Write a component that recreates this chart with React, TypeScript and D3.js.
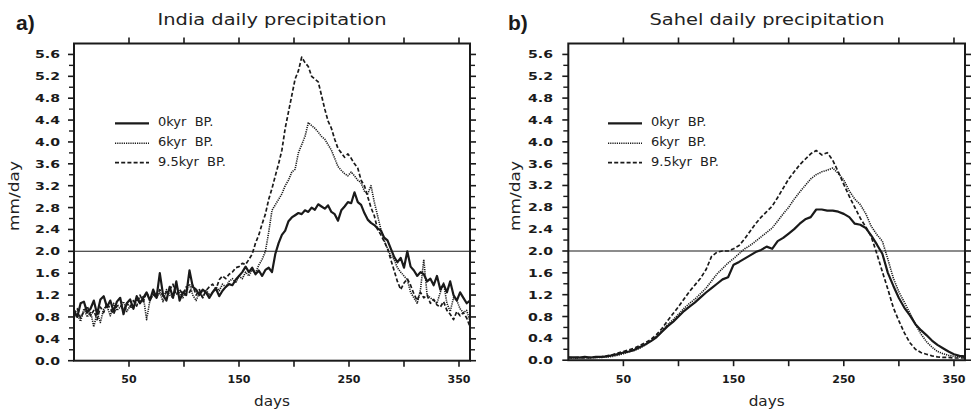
import React from 'react';
import * as d3 from 'd3';

const W = 974;
const H = 414;

// ---- data ----
const indiaDays = d3.range(0, 361, 3);
const sahelDays = d3.range(0, 361, 5);

const india0k = [
  0.92, 0.80, 1.05, 1.08, 0.88, 0.95, 1.10, 0.85, 1.12, 1.18,
  0.98, 1.10, 0.90, 1.08, 1.15, 0.85, 1.05, 1.12, 0.95, 1.18,
  1.05, 1.15, 1.25, 1.10, 1.30, 1.15, 1.60, 1.20, 1.10, 1.35,
  1.15, 1.45, 1.10, 1.25, 1.20, 1.65, 1.35, 1.30, 1.20, 1.30,
  1.25, 1.15, 1.25, 1.32, 1.18, 1.28, 1.35, 1.40, 1.38, 1.48,
  1.55, 1.62, 1.72, 1.62, 1.70, 1.58, 1.65, 1.55, 1.66, 1.70,
  1.62, 1.95, 2.15, 2.30, 2.38, 2.55, 2.62, 2.66, 2.70, 2.68,
  2.75, 2.72, 2.80, 2.76, 2.86, 2.82, 2.78, 2.84, 2.72, 2.68,
  2.56, 2.75, 2.82, 2.90, 2.88, 3.08, 2.90, 2.85, 2.70, 2.58,
  2.52, 2.48, 2.42, 2.38, 2.25, 2.20, 2.05, 1.90, 1.80, 1.88,
  1.70, 2.00, 1.72, 1.65, 1.55, 1.62, 1.58, 1.45, 1.50, 1.38,
  1.55, 1.30, 1.40, 1.25, 1.45, 1.20, 1.10, 1.25, 1.15, 1.05,
  1.10,
];
const india6k = [
  0.78, 0.85, 0.72, 0.95, 0.80, 0.90, 0.62, 0.88, 0.70, 0.95,
  1.00, 0.82, 1.05, 0.92, 0.98, 1.08, 0.90, 1.00, 0.95, 1.12,
  1.05, 1.18, 0.75, 1.10, 1.20, 1.15, 1.25, 1.08, 1.30, 1.20,
  1.15, 1.35, 1.25, 1.15, 1.30, 1.40, 1.20, 1.10, 1.25, 1.15,
  1.30, 1.20, 1.25, 1.35, 1.28, 1.40, 1.35, 1.45, 1.50, 1.42,
  1.55, 1.50, 1.62, 1.55, 1.66, 1.60, 1.75, 1.85, 2.00, 2.35,
  2.75, 2.85, 2.95, 3.05, 3.20, 3.30, 3.45, 3.50, 3.80, 3.95,
  4.10, 4.35, 4.30, 4.25, 4.18, 4.10, 4.05, 3.95, 3.85, 3.70,
  3.55, 3.48, 3.42, 3.38, 3.45, 3.38, 3.30, 3.25, 3.10, 3.05,
  3.20, 2.90, 2.65, 2.40, 2.20, 2.05, 1.92, 1.85, 1.70, 1.62,
  1.55, 1.48, 1.25, 1.15, 1.05, 1.30, 1.85, 1.20, 1.15, 1.10,
  1.05, 1.25, 1.42, 1.05, 0.90, 1.15, 1.10, 0.95, 0.88, 0.92,
  0.72,
];
const india95k = [
  0.85, 0.95, 0.78, 0.90, 1.00, 0.82, 0.92, 0.75, 0.98, 0.88,
  1.05, 0.95, 0.85, 1.00, 1.02, 0.92, 1.05, 0.98, 1.10, 1.00,
  1.20, 1.08, 1.25, 1.12, 1.22, 1.15, 1.30, 1.18, 1.25, 1.30,
  1.40, 1.20, 1.30, 1.22, 1.35, 1.25, 1.38, 1.20, 1.30, 1.15,
  1.28, 1.35, 1.40, 1.30, 1.48, 1.55, 1.50, 1.58, 1.62, 1.70,
  1.72, 1.78, 1.76, 1.85, 1.95, 2.15, 2.30, 2.50, 2.68, 2.95,
  3.15, 3.38, 3.60, 3.85, 4.25, 4.55, 4.85, 5.15, 5.30, 5.55,
  5.45, 5.38, 5.20, 5.15, 5.10, 4.85, 4.60, 4.38, 4.25, 4.05,
  3.88, 3.80, 3.72, 3.78, 3.70, 3.60, 3.52, 3.30, 3.20, 3.00,
  2.80, 2.65, 2.40, 2.30, 2.18, 2.05, 1.85, 1.65, 1.45, 1.30,
  1.42, 1.50, 1.38, 1.22, 1.10, 1.25, 1.15, 1.20, 1.05, 1.12,
  1.02, 0.98, 1.08, 0.92, 0.85, 0.75, 0.90, 0.82, 0.88, 0.78,
  0.62,
];

const sahel0k = [
  0.05, 0.05, 0.05, 0.06, 0.05, 0.06, 0.06, 0.07, 0.09, 0.11,
  0.14, 0.16, 0.19, 0.24, 0.29, 0.35, 0.42, 0.52, 0.62, 0.70,
  0.80, 0.90, 0.98, 1.06, 1.15, 1.24, 1.32, 1.40, 1.48, 1.52,
  1.75, 1.80, 1.86, 1.92, 1.98, 2.02, 2.08, 2.04, 2.18, 2.24,
  2.32, 2.40, 2.50, 2.58, 2.62, 2.76, 2.76, 2.74, 2.74, 2.72,
  2.68, 2.62, 2.50, 2.48, 2.42, 2.28, 2.12, 1.95, 1.60, 1.36,
  1.14, 0.96, 0.82, 0.66, 0.55, 0.46, 0.36, 0.28, 0.22, 0.16,
  0.11, 0.08, 0.07,
];
const sahel6k = [
  0.04, 0.04, 0.04, 0.05, 0.04, 0.05, 0.05, 0.06, 0.07, 0.09,
  0.12, 0.15, 0.18, 0.22, 0.28, 0.35, 0.44, 0.54, 0.65, 0.74,
  0.84, 0.95, 1.04, 1.12, 1.22, 1.32, 1.45, 1.58, 1.68, 1.78,
  1.86, 1.95, 2.04, 2.10, 2.18, 2.26, 2.34, 2.42, 2.55, 2.68,
  2.80, 2.95, 3.08, 3.20, 3.32, 3.40, 3.45, 3.48, 3.52, 3.42,
  3.30, 3.10, 2.95, 2.85, 2.68, 2.45, 2.30, 2.18, 1.85, 1.50,
  1.25, 1.06, 0.86, 0.66, 0.48, 0.34, 0.24, 0.16, 0.12, 0.09,
  0.07, 0.06, 0.05,
];
const sahel95k = [
  0.05, 0.04, 0.05, 0.04, 0.05, 0.05, 0.06, 0.08, 0.10, 0.13,
  0.16, 0.19, 0.22, 0.27, 0.32, 0.38, 0.47, 0.58, 0.72, 0.85,
  0.98, 1.12, 1.26, 1.38, 1.50, 1.66, 1.90, 1.98, 2.00, 2.00,
  2.04, 2.10, 2.22, 2.36, 2.50, 2.62, 2.72, 2.82, 2.98, 3.15,
  3.32, 3.45, 3.58, 3.68, 3.78, 3.84, 3.76, 3.80, 3.66, 3.45,
  3.22, 3.00, 2.80, 2.60, 2.44, 2.26, 1.95, 1.62, 1.30, 0.96,
  0.72, 0.50, 0.32, 0.20, 0.14, 0.11, 0.08, 0.06, 0.05, 0.05,
  0.04, 0.04, 0.04,
];

const seriesNames = ['0kyr  BP.', '6kyr  BP.', '9.5kyr  BP.'];
const yLabelValues = [0, 0.4, 0.8, 1.2, 1.6, 2.0, 2.4, 2.8, 3.2, 3.6, 4.0, 4.4, 4.8, 5.2, 5.6];
const yMinorValues = [0.2, 0.6, 1.0, 1.4, 1.8, 2.2, 2.6, 3.0, 3.4, 3.8, 4.2, 4.6, 5.0, 5.4];
const xMajorTicks = [50, 100, 150, 200, 250, 300, 350];
const xLabelTicks = [50, 150, 250, 350];
const refValue = 2.0;

const STYLES = [
  { width: 2.2, dash: 'none' },
  { width: 1.6, dash: '1.2 1' },
  { width: 1.7, dash: '4 2.2' },
];

type PanelProps = {
  x0: number; x1: number; y0: number; y1: number;
  days: number[]; series: number[][];
  title: string; letter: string; titleX: number; titleLen: number;
  letterX: number; yLabelX: number; legendX: number; ylabX: number;
};

function Panel(p: PanelProps) {
  const x = d3.scaleLinear().domain([0, 360]).range([p.x0, p.x1]);
  const y = d3.scaleLinear().domain([0, 5.8]).range([p.y1, p.y0]);
  const line = d3.line<number>().x((_, i) => x(p.days[i])).y((d) => y(d));
  const fmt = d3.format('.1f');
  const ink = '#1a1a1a';
  const legendY = [123.3, 143.3, 162.7];
  const cx = (p.x0 + p.x1) / 2;
  const cid = p.letter === 'a)' ? 'clipA' : 'clipB';
  return (
    <g>
      <defs>
        <clipPath id={cid}>
          <rect x={p.x0} y={p.y0} width={p.x1 - p.x0} height={p.y1 - p.y0} />
        </clipPath>
      </defs>
      <text x={p.letterX} y={30} fontFamily="Liberation Sans, Arial, sans-serif" fontWeight="bold" fontSize={21} fill={ink}>{p.letter}</text>
      <text x={p.titleX} y={25} textAnchor="middle" fontFamily="DejaVu Sans, sans-serif" fontSize={15} fill="#222" textLength={p.titleLen} lengthAdjust="spacingAndGlyphs">{p.title}</text>
      {/* data lines */}
      <g clipPath={`url(#${cid})`}>
        {p.series.map((s, i) => (
          <path key={i} d={line(s) || ''} fill="none" stroke={ink} strokeWidth={STYLES[i].width} strokeDasharray={STYLES[i].dash} strokeLinejoin="round" />
        ))}
      </g>
      {/* reference line */}
      <line x1={p.x0} x2={p.x1} y1={y(refValue)} y2={y(refValue)} stroke={ink} strokeWidth={1.1} />
      {/* frame */}
      <rect x={p.x0} y={p.y0} width={p.x1 - p.x0} height={p.y1 - p.y0} fill="none" stroke={ink} strokeWidth={2} />
      {/* y ticks */}
      {yLabelValues.map((v) => (
        <g key={'yl' + v}>
          <line x1={p.x0 - 6} x2={p.x0} y1={y(v)} y2={y(v)} stroke={ink} strokeWidth={1.6} />
          <line x1={p.x1} x2={p.x1 + 6} y1={y(v)} y2={y(v)} stroke={ink} strokeWidth={1.6} />
          <text x={p.yLabelX} y={y(v) + 4} textAnchor="end" fontFamily="DejaVu Sans, sans-serif" fontWeight="bold" fontSize={11} fill={ink} textLength={25} lengthAdjust="spacingAndGlyphs">{fmt(v)}</text>
        </g>
      ))}
      {yMinorValues.map((v) => (
        <g key={'ym' + v}>
          <line x1={p.x0 - 5} x2={p.x0} y1={y(v)} y2={y(v)} stroke={ink} strokeWidth={1.4} />
          <line x1={p.x1} x2={p.x1 + 5} y1={y(v)} y2={y(v)} stroke={ink} strokeWidth={1.4} />
        </g>
      ))}
      {/* x ticks */}
      {xMajorTicks.map((v) => (
        <g key={'xt' + v}>
          <line x1={x(v)} x2={x(v)} y1={p.y1} y2={p.y1 + 6} stroke={ink} strokeWidth={1.6} />
          <line x1={x(v)} x2={x(v)} y1={p.y0} y2={p.y0 - 6} stroke={ink} strokeWidth={1.6} />
        </g>
      ))}
      {xLabelTicks.map((v) => (
        <text key={'xl' + v} x={x(v)} y={383} textAnchor="middle" fontFamily="DejaVu Sans, sans-serif" fontWeight="bold" fontSize={11} fill={ink}>{v}</text>
      ))}
      <text x={cx} y={406} textAnchor="middle" fontFamily="DejaVu Sans, sans-serif" fontSize={14} fill="#222" textLength={36} lengthAdjust="spacingAndGlyphs">days</text>
      <text transform={`translate(${p.ylabX},196) rotate(-90)`} textAnchor="middle" fontFamily="DejaVu Sans, sans-serif" fontSize={14} fill="#222" textLength={70} lengthAdjust="spacingAndGlyphs">mm/day</text>
      {/* legend */}
      {seriesNames.map((n, i) => (
        <g key={'lg' + i}>
          <line x1={p.legendX} x2={p.legendX + 34} y1={legendY[i]} y2={legendY[i]} stroke={ink} strokeWidth={STYLES[i].width} strokeDasharray={STYLES[i].dash} />
          <text x={p.legendX + 43} y={legendY[i] + 3} fontFamily="DejaVu Sans, sans-serif" fontSize={13} fill="#222" style={{ whiteSpace: 'pre' }}>{n}</text>
        </g>
      ))}
    </g>
  );
}

export default function App() {
  return (
    <svg width={W} height={H} style={{ position: 'absolute', left: 0, top: 0, background: '#fff' }}>
      <rect width={W} height={H} fill="#fff" />
      <Panel x0={74} x1={470} y0={43.5} y1={360.7} days={indiaDays} series={[india0k, india6k, india95k]}
        title="India daily precipitation" letter="a)" titleX={272} titleLen={229} letterX={16}
        yLabelX={60} legendX={115} ylabX={19} />
      <Panel x0={568.3} x1={965} y0={43.5} y1={360.2} days={sahelDays} series={[sahel0k, sahel6k, sahel95k]}
        title="Sahel daily precipitation" letter="b)" titleX={767} titleLen={235} letterX={508}
        yLabelX={553} legendX={608} ylabX={520} />
    </svg>
  );
}
